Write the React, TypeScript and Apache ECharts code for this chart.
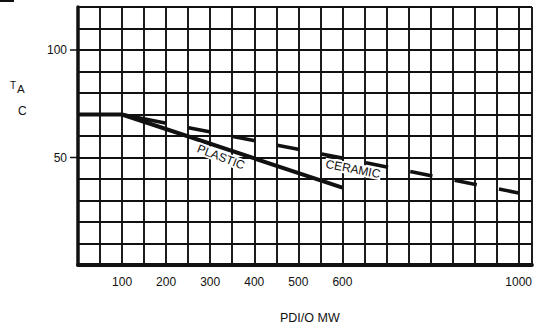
import React, { useEffect, useRef } from "react";
import * as echarts from "echarts";

// Data
const plasticX = [0, 100, 600];
const plasticY = [70, 70, 36];
const ceramicX = [100, 1000];
const ceramicY = [70, 33.5];
const xTickLabels = [100, 200, 300, 400, 500, 600, 1000];
const yTickLabels = [50, 100];

const INK = "#111";
const FONT = "'Liberation Sans', Arial, sans-serif";

export default function App() {
  const ref = useRef<HTMLDivElement>(null);

  useEffect(() => {
    if (!ref.current) return;
    const chart = echarts.init(ref.current, undefined, { renderer: "svg" });

    const seg = 22.6;
    const ceramicDash = [seg * 2, seg];
    for (let i = 0; i < 16; i++) ceramicDash.push(seg);

    const baseGraphic: any[] = [
      {
        type: "rect",
        shape: { x: 0, y: 0, width: 14, height: 2 },
        style: { fill: INK },
      },
      {
        type: "text",
        x: 10,
        y: 85,
        style: { text: "T", fontSize: 10, fontFamily: FONT, fill: INK, align: "left", verticalAlign: "middle" },
      },
      {
        type: "text",
        x: 17,
        y: 89,
        style: { text: "A", fontSize: 11.5, fontFamily: FONT, fill: INK, align: "left", verticalAlign: "middle" },
      },
      {
        type: "text",
        x: 18,
        y: 111,
        style: { text: "C", fontSize: 12, fontFamily: FONT, fill: INK, align: "left", verticalAlign: "middle" },
      },
      {
        type: "text",
        x: 280,
        y: 318,
        style: { text: "PDI/O MW", fontSize: 12.5, fontFamily: FONT, fill: INK, align: "left", verticalAlign: "middle" },
      },
      {
        type: "text",
        x: 221,
        y: 157,
        rotation: (-21 * Math.PI) / 180,
        z: 10,
        style: {
          text: "PLASTIC",
          fontSize: 12,
          fontFamily: FONT,
          fill: INK,
          align: "center",
          verticalAlign: "middle",
          backgroundColor: "#fff",
          padding: [0, 1],
        },
      },
      {
        type: "text",
        x: 353,
        y: 169,
        rotation: (-11 * Math.PI) / 180,
        z: 10,
        style: {
          text: "CERAMIC",
          fontSize: 12,
          fontFamily: FONT,
          fill: INK,
          align: "center",
          verticalAlign: "middle",
          backgroundColor: "#fff",
          padding: [0, 1],
        },
      },
    ];

    chart.setOption({
      animation: false,
      backgroundColor: "#fff",
      grid: { left: 78, right: 0, top: 7, bottom: 61, containLabel: false },
      xAxis: {
        type: "value",
        min: 0,
        max: 1030,
        interval: 50,
        axisLine: { show: true, onZero: false, lineStyle: { color: INK, width: 4 } },
        axisTick: { show: false },
        splitLine: { show: true, lineStyle: { color: INK, width: 1.9 } },
        axisLabel: {
          margin: 11,
          fontSize: 12,
          fontFamily: FONT,
          color: INK,
          showMaxLabel: false,
          formatter: (v: number) => (xTickLabels.includes(v) ? String(v) : ""),
        },
      },
      yAxis: {
        type: "value",
        min: 0,
        max: 120,
        interval: 10,
        axisLine: { show: true, lineStyle: { color: INK, width: 3.5 } },
        axisTick: { show: false },
        splitLine: { show: true, lineStyle: { color: INK, width: 1.9 } },
        axisLabel: {
          margin: 11,
          fontSize: 12,
          fontFamily: FONT,
          color: INK,
          formatter: (v: number) => (yTickLabels.includes(v) ? String(v) : ""),
        },
      },
      series: [
        {
          name: "PLASTIC",
          type: "line",
          symbol: "none",
          data: plasticX.map((x, i) => [x, plasticY[i]]),
          lineStyle: { color: INK, width: 4, cap: "butt" },
          z: 5,
        },
        {
          name: "CERAMIC",
          type: "line",
          symbol: "none",
          data: ceramicX.map((x, i) => [x, ceramicY[i]]),
          lineStyle: { color: INK, width: 3.6, type: ceramicDash, cap: "butt" },
          z: 5,
        },
      ],
      graphic: baseGraphic,
    });

    // y-axis tick marks only at labelled values, positioned through the axis scale
    const tickGraphics = yTickLabels.map((v) => {
      const p = chart.convertToPixel({ yAxisIndex: 0 }, v) as number;
      const x0 = chart.convertToPixel({ xAxisIndex: 0 }, 0) as number;
      return {
        type: "line",
        shape: { x1: x0 - 8, y1: p, x2: x0, y2: p },
        style: { stroke: INK, lineWidth: 1.5 },
      };
    });
    chart.setOption({ graphic: [...baseGraphic, ...tickGraphics] });

    return () => chart.dispose();
  }, []);

  return (
    <div
      ref={ref}
      style={{ position: "absolute", left: 0, top: 0, width: 535, height: 326 }}
    />
  );
}
